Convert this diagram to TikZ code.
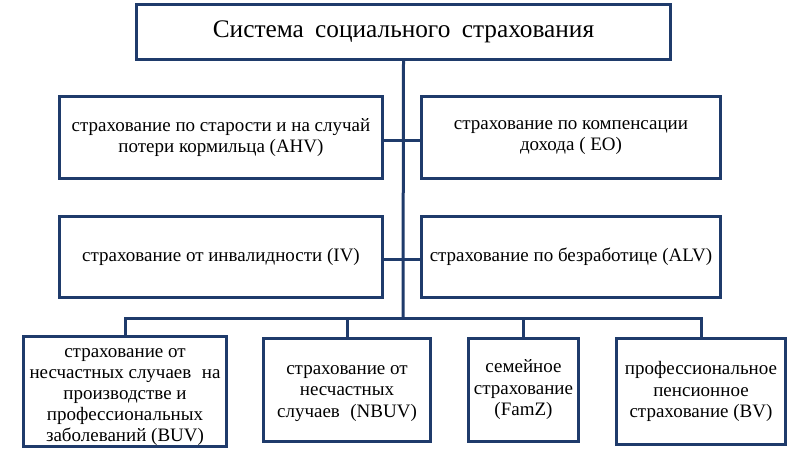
\documentclass[tikz,border=0pt]{standalone}
\usepackage{fontspec}
\setmainfont{Liberation Serif}
\definecolor{navy}{RGB}{31,59,107}
\begin{document}
\begin{tikzpicture}[x=1pt,y=-1pt,
  box/.style={draw=navy,line width=3pt,fill=white,align=center,inner sep=1pt,
    font=\fontsize{19}{21.5}\selectfont},
  link/.style={draw=navy,line width=3pt}]
\useasboundingbox (0,0) rectangle (805,450);
\node[box,minimum width=534pt,minimum height=55pt,font=\fontsize{25.3}{30}\selectfont] (title) at (403.5,32)
  {Система\hspace{0.45em}социального\hspace{0.45em}страхования};
\node[box,minimum width=323pt,minimum height=82pt] (r1L) at (221,137.5)
  {страхование по старости и на случай\\потери кормильца (AHV)};
\node[box,minimum width=299pt,minimum height=82pt] (r1R) at (571,137.5)
  {страхование по компенсации\\дохода ( EO)};
\node[box,minimum width=323pt,minimum height=81pt] (r2L) at (221,257)
  {страхование от инвалидности (IV)};
\node[box,minimum width=299pt,minimum height=81pt] (r2R) at (571,257)
  {страхование по безработице (ALV)};
\node[box,minimum width=203pt,minimum height=108pt,font=\fontsize{19}{21}\selectfont] (b1) at (125,391.5)
  {\rule{0pt}{20pt}страхование от\\несчастных случаев\hspace{0.3em} на\\производстве и\\профессиональных\\заболеваний (BUV)};
\node[box,minimum width=167pt,minimum height=103pt] (b2) at (347,390)
  {\rule{0pt}{16pt}страхование от\\несчастных\\случаев\hspace{0.3em} (NBUV)};
\node[box,minimum width=110pt,minimum height=103pt] (b3) at (523.5,390)
  {семейное\\страхование\\(FamZ)};
\node[box,minimum width=169pt,minimum height=106pt] (b4) at (701,391.5)
  {профессиональное\\пенсионное\\страхование (BV)};
\coordinate (bus) at (403,318);
\coordinate (t1) at (403,140);
\coordinate (t2) at (403,259);
\draw[link] (title.south) -- (bus);
\draw[link] (r1L.east |- t1) -- (r1R.west |- t1);
\draw[link] (r2L.east |- t2) -- (r2R.west |- t2);
\draw[link] (b1.north) |- (bus) -| (b4.north);
\draw[link] (b2.north) -- (b2.north |- bus);
\draw[link] (b3.north) -- (b3.north |- bus);
\end{tikzpicture}
\end{document}
